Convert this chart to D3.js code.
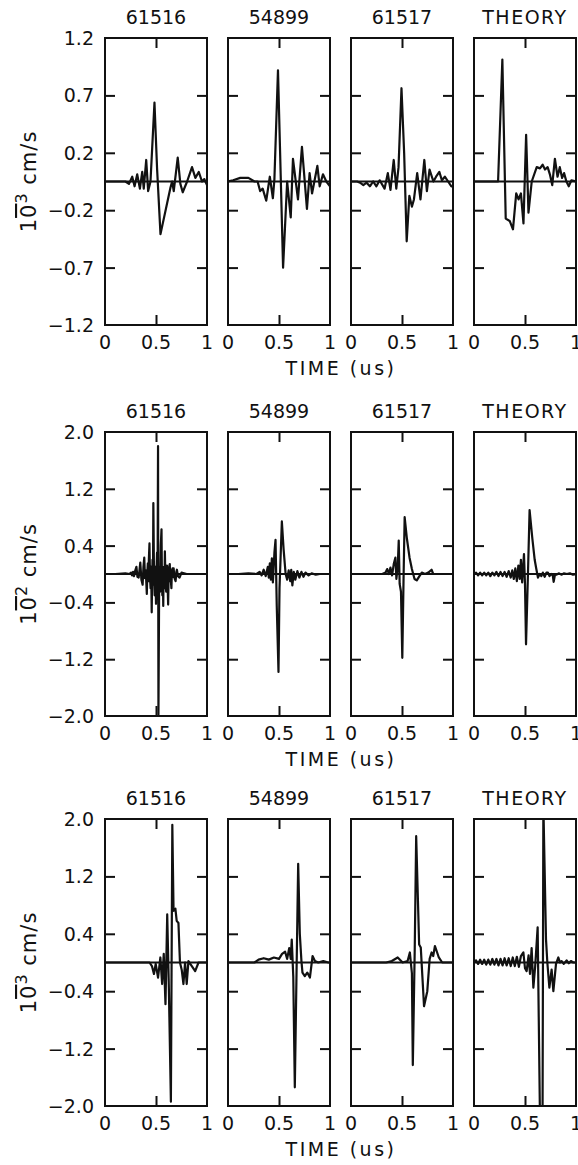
<!DOCTYPE html>
<html>
<head>
<meta charset="utf-8">
<script src="https://cdn.jsdelivr.net/npm/d3@7"></script>
<style>
  body { margin: 0; background: #fff; }
  svg text { font-family: "DejaVu Sans", sans-serif; fill: #111; }
</style>
</head>
<body>
<script>
//Panel titles and tick labels
var titles = ["61516", "54899", "61517", "THEORY"];
var xTicks = [0, 0.5, 1];
var xTickLabels = ["0", "0.5", "1"];
var yTicksTop = [1.2, 0.72, 0.24, -0.24, -0.72, -1.2];
var yLabelsTop = ["1.2", "0.7", "0.2", "\u22120.2", "\u22120.7", "\u22121.2"];
var yTicksLow = [2.0, 1.2, 0.4, -0.4, -1.2, -2.0];
var yLabelsLow = ["2.0", "1.2", "0.4", "\u22120.4", "\u22121.2", "\u22122.0"];
var yExponents = ["3", "2", "3"];
var xTitle = "TIME (us)";

//Row 1 traces (10^-3 cm/s)
var r1a_t = [0, 0.1, 0.2, 0.235, 0.267, 0.29, 0.316, 0.342, 0.365, 0.38, 0.404, 0.423, 0.446, 0.485, 0.511, 0.544, 0.642, 0.658, 0.674, 0.713, 0.739, 0.762, 0.805, 0.853, 0.886, 0.919, 0.951, 0.974, 1];
var r1a_v = [0, 0, 0, -0.02, 0.04, -0.04, 0.06, -0.06, 0.08, -0.06, 0.18, -0.08, 0.0, 0.66, 0.1, -0.44, -0.05, 0.0, -0.08, 0.2, -0.02, -0.09, 0.0, 0.12, 0.03, 0.08, 0.0, 0.02, -0.03];
var r1b_t = [0, 0.05, 0.12, 0.2, 0.26, 0.29, 0.315, 0.34, 0.375, 0.41, 0.44, 0.455, 0.49, 0.54, 0.58, 0.615, 0.637, 0.686, 0.725, 0.774, 0.8, 0.824, 0.876, 0.899, 0.931, 0.964, 1];
var r1b_v = [0, 0.01, 0.03, 0.03, 0.0, 0.0, -0.08, -0.06, -0.16, 0.04, -0.14, 0.02, 0.93, -0.72, 0.0, -0.3, 0.19, -0.15, 0.29, -0.23, 0.07, -0.1, 0.13, -0.04, 0.06, 0.0, -0.04];
var r1c_t = [0, 0.06, 0.089, 0.121, 0.153, 0.185, 0.217, 0.249, 0.281, 0.329, 0.361, 0.387, 0.419, 0.444, 0.466, 0.495, 0.521, 0.546, 0.572, 0.597, 0.617, 0.649, 0.681, 0.719, 0.744, 0.77, 0.808, 0.834, 0.866, 0.891, 0.92, 0.952, 0.984, 1];
var r1c_v = [0, 0, -0.01, -0.03, -0.01, -0.04, 0, -0.04, 0.01, -0.06, 0.07, -0.07, 0.18, -0.06, 0.12, 0.78, 0.24, -0.5, -0.12, -0.21, -0.15, 0.07, -0.15, 0.18, -0.08, 0.1, 0.0, 0.04, 0.08, 0.01, 0.04, 0.0, -0.04, -0.04];
var r1d_t = [0, 0.236, 0.278, 0.311, 0.35, 0.382, 0.414, 0.437, 0.46, 0.485, 0.511, 0.534, 0.566, 0.615, 0.647, 0.673, 0.696, 0.722, 0.744, 0.767, 0.793, 0.819, 0.841, 0.864, 0.883, 0.906, 0.929, 0.955, 1];
var r1d_v = [0, 0, 1.02, -0.31, -0.33, -0.4, -0.1, -0.15, -0.1, -0.35, 0.39, -0.26, 0, 0.12, 0.11, 0.14, 0.1, 0.12, 0.06, -0.03, 0.19, 0.04, 0.12, 0.03, 0.07, 0, -0.04, 0.01, 0];

//Row 2 traces (10^-2 cm/s)
var r2a_t = [0, 0.1, 0.2, 0.24, 0.255, 0.265, 0.275, 0.285, 0.295, 0.308, 0.318, 0.33, 0.338, 0.346, 0.357, 0.369, 0.377, 0.385, 0.392, 0.4, 0.405, 0.41, 0.415, 0.42, 0.425, 0.43, 0.436, 0.441, 0.447, 0.452, 0.458, 0.462, 0.466, 0.47, 0.474, 0.48, 0.487, 0.494, 0.5, 0.505, 0.51, 0.515, 0.52, 0.524, 0.532, 0.54, 0.547, 0.554, 0.558, 0.562, 0.567, 0.571, 0.575, 0.579, 0.583, 0.587, 0.593, 0.6, 0.607, 0.613, 0.619, 0.624, 0.629, 0.635, 0.64, 0.645, 0.651, 0.656, 0.662, 0.668, 0.673, 0.682, 0.692, 0.7, 0.705, 0.715, 0.731, 0.75, 0.8, 0.9, 1];
var r2a_v = [0, 0, 0.01, 0, 0.02, -0.02, 0.03, -0.03, 0.04, 0.1, -0.04, -0.05, 0.05, 0.16, -0.08, -0.15, 0.1, 0.23, -0.06, 0.05, -0.12, -0.28, 0.02, 0.15, -0.1, 0.2, 0.43, -0.05, -0.2, 0.1, -0.54, -0.1, 0.2, -0.15, 1.0, 0.05, -0.3, 0.1, -0.42, 0.05, 0.3, -0.2, 1.8, -1.98, 0.1, -0.25, 0.4, 0.63, -0.05, -0.3, 0.1, -0.45, 0.05, 0.1, -0.2, 0.32, -0.1, -0.25, 0.12, -0.1, -0.43, 0.0, 0.1, 0.14, -0.1, -0.08, -0.2, 0.05, 0.08, -0.04, 0.08, -0.06, -0.1, 0.03, 0.06, -0.03, -0.05, 0.02, 0.0, 0, 0];
var r2b_t = [0, 0.1, 0.2, 0.28, 0.31, 0.33, 0.35, 0.37, 0.39, 0.4, 0.41, 0.42, 0.43, 0.44, 0.455, 0.466, 0.478, 0.495, 0.505, 0.528, 0.545, 0.565, 0.58, 0.595, 0.61, 0.62, 0.631, 0.645, 0.66, 0.68, 0.7, 0.72, 0.74, 0.76, 0.79, 0.82, 0.86, 0.9, 1];
var r2b_v = [0, 0, 0.01, 0, 0.03, -0.02, 0.06, -0.03, 0.1, -0.05, 0.15, -0.08, 0.22, -0.12, 0.3, 0.48, -0.45, -1.38, -0.2, 0.74, 0.35, 0.0, -0.08, 0.05, -0.1, 0.06, -0.16, 0.03, -0.08, 0.04, -0.05, 0.03, -0.04, 0.02, -0.02, 0.01, -0.01, 0, 0];
var r2c_t = [0, 0.1, 0.2, 0.306, 0.339, 0.355, 0.371, 0.387, 0.403, 0.419, 0.435, 0.445, 0.458, 0.468, 0.477, 0.49, 0.503, 0.516, 0.526, 0.548, 0.574, 0.597, 0.623, 0.645, 0.671, 0.694, 0.726, 0.758, 0.79, 0.806, 0.839, 0.9, 1];
var r2c_v = [0, 0, 0, 0, 0.02, 0.07, 0.0, 0.09, -0.02, 0.14, 0.23, -0.07, 0.1, 0.47, -0.14, -0.25, -1.18, 0.0, 0.8, 0.5, 0.23, 0.07, -0.07, -0.09, -0.03, 0.02, 0.0, 0.02, 0.06, 0.0, 0, 0, 0];
var r2d_t = [0, 0.02, 0.04, 0.06, 0.08, 0.1, 0.12, 0.14, 0.16, 0.18, 0.2, 0.22, 0.24, 0.26, 0.28, 0.3, 0.32, 0.34, 0.36, 0.375, 0.39, 0.405, 0.42, 0.435, 0.448, 0.46, 0.472, 0.49, 0.5, 0.51, 0.529, 0.545, 0.572, 0.595, 0.611, 0.627, 0.645, 0.66, 0.675, 0.693, 0.71, 0.725, 0.74, 0.758, 0.772, 0.781, 0.795, 0.81, 0.83, 0.86, 0.88, 0.91, 0.94, 0.97, 1];
var r2d_v = [0, 0.02, -0.02, 0.02, -0.02, 0.02, -0.02, 0.02, -0.03, 0.02, -0.02, 0.03, -0.03, 0.03, -0.03, 0.03, -0.04, 0.04, -0.05, 0.05, -0.07, 0.08, -0.1, 0.12, -0.07, 0.2, -0.12, 0.28, -0.15, -0.99, 0.0, 0.9, 0.5, 0.2, 0.07, -0.05, 0.0, -0.03, 0.02, -0.04, 0.02, 0.02, -0.03, 0.0, -0.02, -0.11, 0.0, -0.01, 0.01, -0.01, 0.01, 0.0, 0.01, -0.01, 0];

//Row 3 traces (10^-3 cm/s)
var r3a_t = [0, 0.2, 0.4, 0.437, 0.46, 0.48, 0.497, 0.52, 0.543, 0.56, 0.576, 0.593, 0.61, 0.626, 0.646, 0.66, 0.672, 0.69, 0.703, 0.72, 0.735, 0.752, 0.769, 0.785, 0.801, 0.818, 0.851, 0.884, 0.917, 0.95, 1];
var r3a_v = [0, 0, 0, 0, -0.05, -0.16, -0.02, -0.21, 0.07, -0.3, 0.12, -0.58, 0.67, -0.35, -1.94, 1.92, 0.72, 0.75, 0.58, 0.55, 0.0, -0.1, -0.3, 0.0, -0.3, 0.02, -0.05, -0.12, 0.0, 0.0, 0.0];
var r3b_t = [0, 0.1, 0.2, 0.26, 0.3, 0.35, 0.4, 0.45, 0.5, 0.53, 0.56, 0.58, 0.6, 0.615, 0.625, 0.64, 0.655, 0.688, 0.704, 0.72, 0.73, 0.753, 0.777, 0.803, 0.829, 0.852, 0.885, 0.934, 0.984, 1];
var r3b_v = [0, 0, 0, 0, 0.04, 0.06, 0.04, 0.07, 0.05, 0.12, 0.15, 0.05, 0.2, 0.05, 0.32, -0.2, -1.74, 1.375, 0.4, 0.02, -0.14, -0.19, -0.14, -0.21, 0.09, 0.02, 0.0, 0.02, 0.0, 0];
var r3c_t = [0, 0.2, 0.345, 0.4, 0.458, 0.506, 0.555, 0.577, 0.597, 0.606, 0.625, 0.639, 0.668, 0.684, 0.7, 0.716, 0.748, 0.771, 0.79, 0.806, 0.823, 0.861, 0.894, 0.95, 1];
var r3c_v = [0, 0, 0, 0.02, 0.07, 0.0, 0.02, 0.14, -0.15, -1.43, 0.2, 1.76, 0.25, 0.21, -0.2, -0.61, -0.4, 0.05, 0.14, 0.09, 0.23, 0.07, 0.0, 0, 0];
var r3d_t = [0, 0.02, 0.04, 0.06, 0.08, 0.1, 0.12, 0.14, 0.16, 0.18, 0.2, 0.22, 0.24, 0.26, 0.28, 0.3, 0.32, 0.34, 0.36, 0.38, 0.4, 0.42, 0.44, 0.46, 0.484, 0.5, 0.516, 0.535, 0.549, 0.565, 0.582, 0.6, 0.624, 0.647, 0.672, 0.68, 0.706, 0.719, 0.739, 0.761, 0.778, 0.804, 0.827, 0.843, 0.859, 0.88, 0.908, 0.93, 0.95, 0.974, 1];
var r3d_v = [0, 0.03, -0.02, 0.04, -0.02, 0.04, -0.03, 0.04, -0.03, 0.05, -0.03, 0.05, -0.04, 0.05, -0.04, 0.06, -0.04, 0.06, -0.05, 0.07, -0.05, 0.08, -0.06, 0.09, 0.14, -0.08, -0.12, 0.1, -0.16, 0.2, -0.35, -0.05, 0.49, -2.2, -2.2, 2.2, 0.32, 0.0, -0.35, -0.1, -0.4, -0.02, 0.07, 0.0, 0.02, -0.02, 0.03, -0.01, 0.02, 0.0, 0];

//Layout
var W = 578, H = 1165;
var panelLeft = [105, 228, 351, 474];
var panelWidth = 102;
var rowTop = [38, 432, 819];
var rowBottom = [325, 716, 1106];
var tickLen = 10;
var ink = "#111";

var rows = [
  { ticks: yTicksTop, labels: yLabelsTop, exp: yExponents[0],
    traces: [[r1a_t, r1a_v], [r1b_t, r1b_v], [r1c_t, r1c_v], [r1d_t, r1d_v]] },
  { ticks: yTicksLow, labels: yLabelsLow, exp: yExponents[1],
    traces: [[r2a_t, r2a_v], [r2b_t, r2b_v], [r2c_t, r2c_v], [r2d_t, r2d_v]] },
  { ticks: yTicksLow, labels: yLabelsLow, exp: yExponents[2],
    traces: [[r3a_t, r3a_v], [r3b_t, r3b_v], [r3c_t, r3c_v], [r3d_t, r3d_v]] }
];

var svg = d3.select("body").append("svg")
    .attr("width", W)
    .attr("height", H);

svg.append("rect").attr("width", W).attr("height", H).attr("fill", "#fff");

var defs = svg.append("defs");

rows.forEach(function (row, r) {
  var top = rowTop[r], bottom = rowBottom[r];
  var ext = d3.extent(row.ticks);
  var y = d3.scaleLinear().domain(ext).range([bottom, top]);
  var inner = row.ticks.filter(function (d) { return d !== ext[0] && d !== ext[1]; });

  panelLeft.forEach(function (left, p) {
    var x = d3.scaleLinear().domain([0, 1]).range([left, left + panelWidth]);
    var g = svg.append("g");
    var clipId = "clip" + r + "_" + p;

    defs.append("clipPath").attr("id", clipId)
      .append("rect")
        .attr("x", left).attr("y", top)
        .attr("width", panelWidth).attr("height", bottom - top);

    //Title
    g.append("text")
        .attr("x", x(0.5))
        .attr("y", top - 21)
        .attr("text-anchor", "middle")
        .attr("dominant-baseline", "central")
        .style("font-size", "19px")
        .style("letter-spacing", p === 3 ? "1.5px" : "0px")
        .text(titles[p]);

    //Inward ticks on all four sides
    g.append("g")
        .attr("transform", "translate(" + left + ",0)")
        .call(d3.axisRight(y).tickValues(inner).tickSize(tickLen).tickFormat(""));
    g.append("g")
        .attr("transform", "translate(" + (left + panelWidth) + ",0)")
        .call(d3.axisLeft(y).tickValues(inner).tickSize(tickLen).tickFormat(""));
    g.append("g")
        .attr("transform", "translate(0," + top + ")")
        .call(d3.axisBottom(x).tickValues([0.5]).tickSize(tickLen).tickFormat(""));
    g.append("g")
        .attr("transform", "translate(0," + bottom + ")")
        .call(d3.axisTop(x).tickValues([0.5]).tickSize(tickLen).tickFormat(""));
    g.selectAll(".domain").remove();
    g.selectAll(".tick line").attr("stroke", ink).attr("stroke-width", 2);

    //Zero reference line
    g.append("line")
        .attr("x1", left).attr("x2", left + panelWidth)
        .attr("y1", y(0)).attr("y2", y(0))
        .attr("stroke", ink).attr("stroke-width", 1.8);

    //Trace
    var tr = row.traces[p];
    var pts = tr[0].map(function (t, i) { return [t, tr[1][i]]; });
    var line = d3.line()
        .x(function (d) { return x(d[0]); })
        .y(function (d) { return y(d[1]); });
    g.append("path")
        .attr("d", line(pts))
        .attr("clip-path", "url(#" + clipId + ")")
        .attr("fill", "none")
        .attr("stroke", ink)
        .attr("stroke-width", 2.2)
        .attr("stroke-linejoin", "round");

    //Frame
    g.append("rect")
        .attr("x", left).attr("y", top)
        .attr("width", panelWidth).attr("height", bottom - top)
        .attr("fill", "none")
        .attr("stroke", ink)
        .attr("stroke-width", 2);

    //Time tick labels
    g.selectAll(".xl").data(xTicks).enter().append("text")
        .attr("x", function (d) { return x(d); })
        .attr("y", bottom + 17)
        .attr("text-anchor", "middle")
        .attr("dominant-baseline", "central")
        .style("font-size", "19px")
        .text(function (d, i) { return xTickLabels[i]; });
  });

  //Y tick labels on the first panel
  svg.selectAll(".yl" + r).data(row.ticks).enter().append("text")
      .attr("x", panelLeft[0] - 11)
      .attr("y", function (d) { return y(d); })
      .attr("text-anchor", "end")
      .attr("dominant-baseline", "central")
      .style("font-size", "19px")
      .text(function (d, i) { return row.labels[i]; });

  //Y axis title
  var cy = (top + bottom) / 2;
  var yt = svg.append("text")
      .attr("transform", "translate(36," + cy + ") rotate(-90)")
      .attr("text-anchor", "middle")
      .style("font-size", "21px")
      .style("letter-spacing", "1px");
  yt.append("tspan").text("1");
  yt.append("tspan").style("text-decoration", "overline").text("0");
  yt.append("tspan").attr("dy", -9).style("font-size", "16px").text(row.exp);
  yt.append("tspan").attr("dy", 9).text(" cm/s");

  //Time axis title
  svg.append("text")
      .attr("x", 341)
      .attr("y", bottom + 43)
      .attr("text-anchor", "middle")
      .attr("dominant-baseline", "central")
      .style("font-size", "19px")
      .style("letter-spacing", "2.5px")
      .text(xTitle);
});
</script>
</body>
</html>
